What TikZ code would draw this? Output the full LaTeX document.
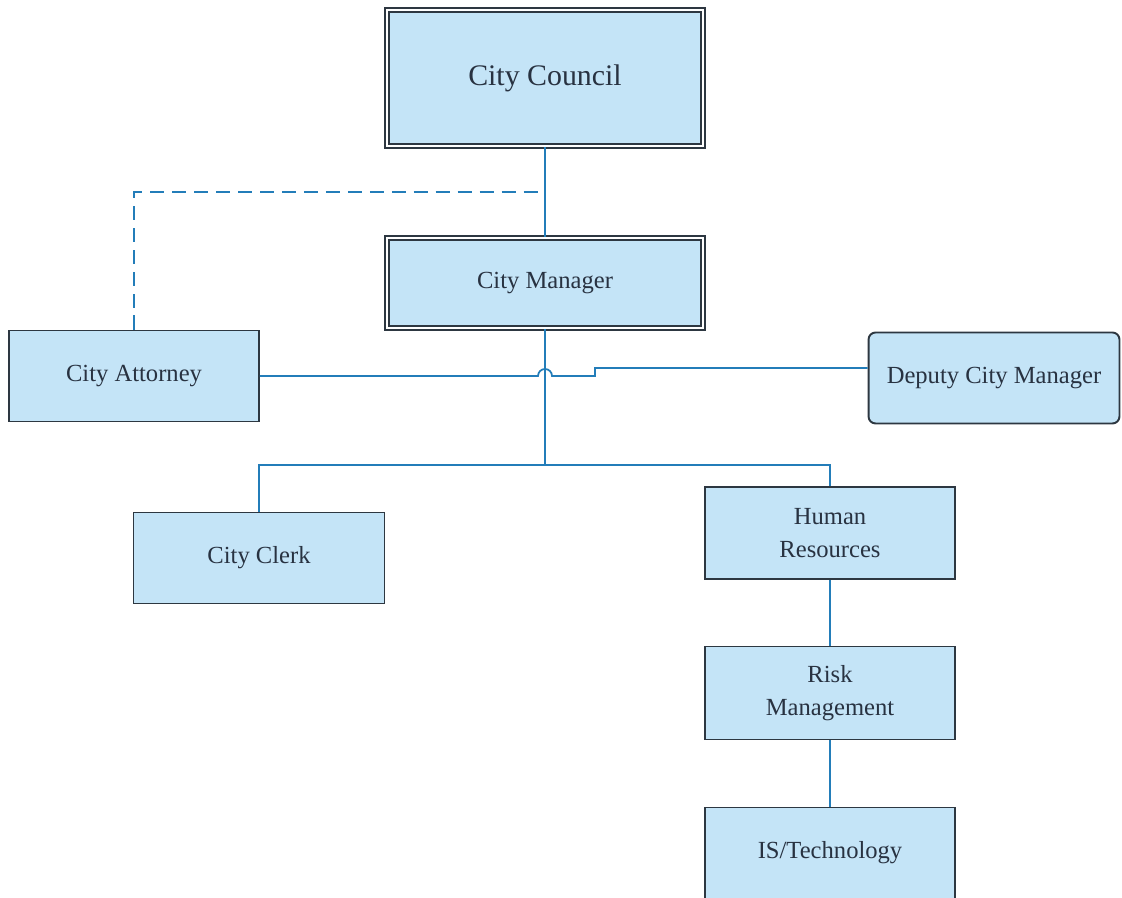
\documentclass[tikz,border=0pt]{standalone}
\usepackage{fontspec}
\setmainfont{Liberation Serif}
\usetikzlibrary{positioning}
\definecolor{boxfill}{RGB}{196,228,247}
\definecolor{boxline}{RGB}{45,55,65}
\definecolor{linkblue}{RGB}{35,125,185}
\definecolor{textcol}{RGB}{40,50,65}
\tikzset{
    unit/.style={draw=boxline, fill=boxfill, line width=1.1pt, text=textcol, minimum width=5cm, minimum height=1.82cm, inner sep=0mm, align=center, font=\fontsize{14}{19}\selectfont},
    head/.style={unit, double=white, double distance=1.3pt, line width=0.9pt, minimum width=6.32cm},
    link/.style={draw=linkblue, line width=1pt},
    advise/.style={link, dash pattern=on 8pt off 4.5pt},
    x=0.02cm, y=0.02cm
}
\begin{document}
\begin{tikzpicture}
    \useasboundingbox (0,0) rectangle (1122,898);
    \node[head, minimum height=2.72cm, font=\fontsize{17}{20}\selectfont] (council) at (545,820) {City Council};
    \node[head, minimum height=1.8cm] (manager) at (545,615) {City Manager};
    \node[unit] (attorney) at (134,522) {City Attorney};
    \node[unit, rounded corners=4pt, minimum width=5.02cm] (deputy) at (994,520) {Deputy City Manager};
    \node[unit, minimum width=5.02cm] (clerk) at (259,340) {City Clerk};
    \node[unit, minimum height=1.84cm] (hr) at (830,365) {Human\\Resources};
    \node[unit, minimum height=1.86cm] (risk) at (830,205) {Risk\\Management};
    \node[unit] (tech) at (830,45) {IS/Technology};

    \coordinate (dash) at (545,706);
    \coordinate (bus) at (545,433);
    \coordinate (hop) at (538,522);
    \coordinate (jog) at (595,530);

    \draw[link] (council) -- (manager);
    \draw[advise] (attorney.north) |- (dash);
    \draw[link] (manager.south) -- (bus);
    \draw[link] (clerk.north) |- (bus) -| (hr.north);
    \draw[link] (attorney.east) -- (hop) arc (180:0:7) -- (jog |- hop) -- (jog) -- (jog -| deputy.west);
    \draw[link] (hr) -- (risk);
    \draw[link] (risk) -- (tech);
\end{tikzpicture}
\end{document}
